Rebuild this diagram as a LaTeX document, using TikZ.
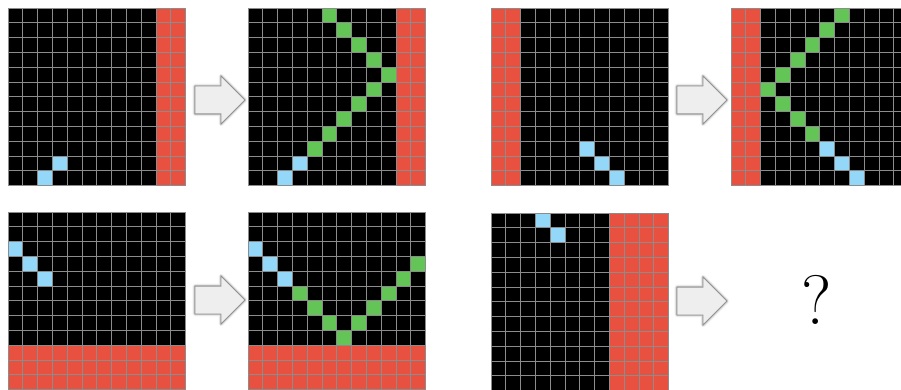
\documentclass[tikz,border=0pt]{standalone}
\usepackage{tikz}
\usetikzlibrary{shapes.arrows,shadows.blur}

\definecolor{cellred}{HTML}{E8513F}
\definecolor{cellblue}{HTML}{93D8F8}
\definecolor{cellgreen}{HTML}{63C556}
\definecolor{gridgray}{HTML}{8C8C8C}

\begin{document}
\begin{tikzpicture}[x=1pt, y=-1pt,
    board/.style={x=14.8pt, y=-14.8pt},
    gridline/.style={draw=gridgray, line width=0.9pt},
    bigarrow/.style={single arrow, draw=gray!85, fill=gray!13, line width=0.8pt,
        minimum height=50pt, single arrow head extend=10pt,
        single arrow head indent=0pt, inner xsep=0pt, inner ysep=13.5pt,
        blur shadow={shadow xshift=0pt, shadow yshift=0pt, shadow blur radius=2.5pt, shadow opacity=60}}]

    \useasboundingbox (0,0) rectangle (901,390);
    \clip (0,0) rectangle (901,390);

    % first pair: wall on the right
    \begin{scope}[shift={(8,8)}, board]
        \fill[black] (0,0) rectangle (12,12);
        \fill[cellred] (10,0) rectangle (12,12);
        \foreach \c/\r in {3/10, 2/11} \fill[cellblue] (\c,\r) rectangle ++(1,1);
        \foreach \i in {0,...,12} {\draw[gridline] (\i,0) -- (\i,12); \draw[gridline] (0,\i) -- (12,\i);}
    \end{scope}
    \begin{scope}[shift={(248,8)}, board]
        \fill[black] (0,0) rectangle (12,12);
        \fill[cellred] (10,0) rectangle (12,12);
        \foreach \c/\r in {3/10, 2/11} \fill[cellblue] (\c,\r) rectangle ++(1,1);
        \foreach \c/\r in {5/0, 6/1, 7/2, 8/3, 9/4, 8/5, 7/6, 6/7, 5/8, 4/9} \fill[cellgreen] (\c,\r) rectangle ++(1,1);
        \foreach \i in {0,...,12} {\draw[gridline] (\i,0) -- (\i,12); \draw[gridline] (0,\i) -- (12,\i);}
    \end{scope}

    % second pair: wall on the left
    \begin{scope}[shift={(491,8)}, board]
        \fill[black] (0,0) rectangle (12,12);
        \fill[cellred] (0,0) rectangle (2,12);
        \foreach \c/\r in {6/9, 7/10, 8/11} \fill[cellblue] (\c,\r) rectangle ++(1,1);
        \foreach \i in {0,...,12} {\draw[gridline] (\i,0) -- (\i,12); \draw[gridline] (0,\i) -- (12,\i);}
    \end{scope}
    \begin{scope}[shift={(731,8)}, board]
        \fill[black] (0,0) rectangle (12,12);
        \fill[cellred] (0,0) rectangle (2,12);
        \foreach \c/\r in {6/9, 7/10, 8/11} \fill[cellblue] (\c,\r) rectangle ++(1,1);
        \foreach \c/\r in {7/0, 6/1, 5/2, 4/3, 3/4, 2/5, 3/6, 4/7, 5/8} \fill[cellgreen] (\c,\r) rectangle ++(1,1);
        \foreach \i in {0,...,12} {\draw[gridline] (\i,0) -- (\i,12); \draw[gridline] (0,\i) -- (12,\i);}
    \end{scope}

    % third pair: wall at the bottom
    \begin{scope}[shift={(8,212)}, board]
        \fill[black] (0,0) rectangle (12,12);
        \fill[cellred] (0,9) rectangle (12,12);
        \foreach \c/\r in {0/2, 1/3, 2/4} \fill[cellblue] (\c,\r) rectangle ++(1,1);
        \foreach \i in {0,...,12} {\draw[gridline] (\i,0) -- (\i,12); \draw[gridline] (0,\i) -- (12,\i);}
    \end{scope}
    \begin{scope}[shift={(248,212)}, board]
        \fill[black] (0,0) rectangle (12,12);
        \fill[cellred] (0,9) rectangle (12,12);
        \foreach \c/\r in {0/2, 1/3, 2/4} \fill[cellblue] (\c,\r) rectangle ++(1,1);
        \foreach \c/\r in {3/5, 4/6, 5/7, 6/8, 7/7, 8/6, 9/5, 10/4, 11/3} \fill[cellgreen] (\c,\r) rectangle ++(1,1);
        \foreach \i in {0,...,12} {\draw[gridline] (\i,0) -- (\i,12); \draw[gridline] (0,\i) -- (12,\i);}
    \end{scope}

    % test board
    \begin{scope}[shift={(491,213)}, board]
        \fill[black] (0,0) rectangle (12,12);
        \fill[cellred] (8,0) rectangle (12,12);
        \foreach \c/\r in {3/0, 4/1} \fill[cellblue] (\c,\r) rectangle ++(1,1);
        \foreach \i in {0,...,12} {\draw[gridline] (\i,0) -- (\i,12); \draw[gridline] (0,\i) -- (12,\i);}
    \end{scope}

    % arrows and the question
    \node[bigarrow] (arr1) at (213,100) {};
    \node[bigarrow] (arr2) at (695,100) {};
    \node[bigarrow] (arr3) at (213,300) {};
    \node[bigarrow] (arr4) at (695,301) {};
    \node[font=\fontsize{70}{70}\selectfont] (quest) at (817,300) {?};
\end{tikzpicture}
\end{document}
